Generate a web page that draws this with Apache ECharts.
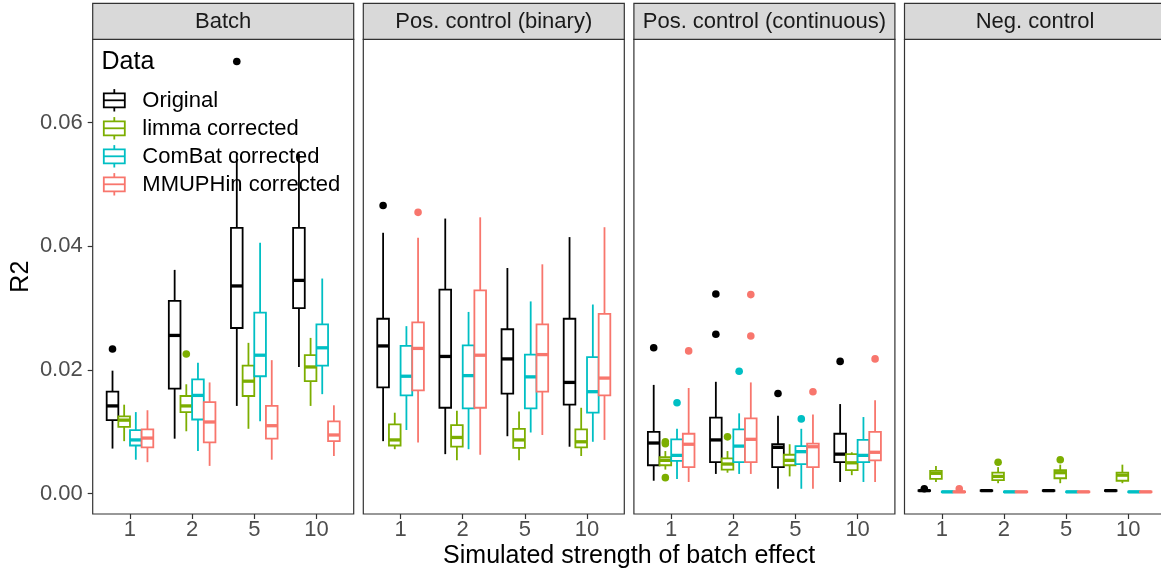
<!DOCTYPE html>
<html>
<head>
<meta charset="utf-8">
<script src="https://cdn.jsdelivr.net/npm/echarts@6/dist/echarts.min.js"></script>
<style>
  html, body { margin: 0; padding: 0; background: #ffffff; }
  #chart { width: 1161px; height: 573px; }
</style>
</head>
<body>
<div id="chart"></div>
<script>
// ---- data ---------------------------------------------------------------
const categories = ['1', '2', '5', '10'];
const panels = ['Batch', 'Pos. control (binary)', 'Pos. control (continuous)', 'Neg. control'];
const methods = ['Original', 'limma corrected', 'ComBat corrected', 'MMUPHin corrected'];
const methodColors = ['#000000', '#7CAE00', '#00BFC4', '#F8766D'];
const yTicks = [0, 0.02, 0.04, 0.06];

// Box statistics per method (rows follow `methods`), one entry per strength:
// [lower whisker, Q1, median, Q3, upper whisker]
const batchStats = [
  [[0.0073, 0.0119, 0.0142, 0.0165, 0.0199], [0.0089, 0.0170, 0.0256, 0.0312, 0.0362], [0.0142, 0.0268, 0.0336, 0.0430, 0.0551], [0.0205, 0.0300, 0.0345, 0.0430, 0.0550]],
  [[0.0085, 0.0108, 0.0119, 0.0125, 0.0144], [0.0101, 0.0132, 0.0142, 0.0158, 0.0177], [0.0105, 0.0158, 0.0182, 0.0207, 0.0244], [0.0142, 0.0182, 0.0205, 0.0224, 0.0252]],
  [[0.0055, 0.0078, 0.0087, 0.0103, 0.0132], [0.0069, 0.0120, 0.0159, 0.0185, 0.0212], [0.0117, 0.0190, 0.0224, 0.0293, 0.0406], [0.0161, 0.0207, 0.0236, 0.0274, 0.0348]],
  [[0.0051, 0.0075, 0.0090, 0.0104, 0.0135], [0.0045, 0.0083, 0.0116, 0.0148, 0.0180], [0.0055, 0.0089, 0.0110, 0.0142, 0.0216], [0.0061, 0.0085, 0.0095, 0.0117, 0.0143]]
];
const posBinaryStats = [
  [[0.0085, 0.0172, 0.0239, 0.0283, 0.0422], [0.0064, 0.0139, 0.0222, 0.0330, 0.0445], [0.0093, 0.0162, 0.0218, 0.0266, 0.0365], [0.0076, 0.0144, 0.0180, 0.0283, 0.0415]],
  [[0.0072, 0.0078, 0.0087, 0.0112, 0.0131], [0.0054, 0.0076, 0.0091, 0.0111, 0.0134], [0.0054, 0.0074, 0.0087, 0.0105, 0.0133], [0.0061, 0.0075, 0.0084, 0.0104, 0.0139]],
  [[0.0103, 0.0159, 0.0190, 0.0239, 0.0271], [0.0072, 0.0138, 0.0191, 0.0240, 0.0294], [0.0099, 0.0138, 0.0189, 0.0225, 0.0311], [0.0084, 0.0131, 0.0165, 0.0221, 0.0306]],
  [[0.0083, 0.0167, 0.0235, 0.0277, 0.0414], [0.0063, 0.0139, 0.0224, 0.0329, 0.0447], [0.0095, 0.0165, 0.0225, 0.0274, 0.0371], [0.0087, 0.0159, 0.0187, 0.0291, 0.0431]]
];
const posContinuousStats = [
  [[0.0021, 0.0046, 0.0082, 0.0100, 0.0176], [0.0032, 0.0051, 0.0087, 0.0123, 0.0181], [0.0008, 0.0043, 0.0075, 0.0080, 0.0126], [0.0019, 0.0051, 0.0064, 0.0097, 0.0145]],
  [[0.0039, 0.0046, 0.0054, 0.0059, 0.0069], [0.0034, 0.0039, 0.0048, 0.0057, 0.0069], [0.0028, 0.0046, 0.0054, 0.0063, 0.0080], [0.0030, 0.0038, 0.0050, 0.0064, 0.0067]],
  [[0.0024, 0.0053, 0.0062, 0.0088, 0.0105], [0.0032, 0.0051, 0.0077, 0.0104, 0.0130], [0.0008, 0.0048, 0.0068, 0.0077, 0.0105], [0.0019, 0.0051, 0.0062, 0.0087, 0.0124]],
  [[0.0019, 0.0043, 0.0080, 0.0097, 0.0171], [0.0032, 0.0051, 0.0088, 0.0122, 0.0180], [0.0008, 0.0043, 0.0076, 0.0081, 0.0128], [0.0019, 0.0054, 0.0067, 0.0100, 0.0151]]
];
const negControlStats = [
  [[0.0004, 0.00045, 0.0005, 0.00055, 0.0006], [0.0004, 0.00045, 0.0005, 0.00055, 0.0006], [0.0004, 0.00045, 0.0005, 0.00055, 0.0006], [0.0004, 0.00045, 0.0005, 0.00055, 0.0006]],
  [[0.0019, 0.0024, 0.0033, 0.0037, 0.0045], [0.0017, 0.0022, 0.0028, 0.0034, 0.0043], [0.0017, 0.0025, 0.0034, 0.0038, 0.0047], [0.0017, 0.0021, 0.0030, 0.0034, 0.0047]],
  [[0.0002, 0.00025, 0.0003, 0.00035, 0.0004], [0.0002, 0.00025, 0.0003, 0.00035, 0.0004], [0.0002, 0.00025, 0.0003, 0.00035, 0.0004], [0.0002, 0.00025, 0.0003, 0.00035, 0.0004]],
  [[0.0002, 0.00025, 0.0003, 0.00035, 0.0004], [0.0002, 0.00025, 0.0003, 0.00035, 0.0004], [0.0002, 0.00025, 0.0003, 0.00035, 0.0004], [0.0002, 0.00025, 0.0003, 0.00035, 0.0004]]
];

// Outliers: [method index, strength index, value]
const batchOutliers = [[0, 0, 0.0234], [0, 2, 0.0699], [1, 1, 0.0226]];
const posBinaryOutliers = [[0, 0, 0.0466], [3, 0, 0.0455]];
const posContinuousOutliers = [
  [0, 0, 0.0236], [1, 0, 0.0084], [1, 0, 0.0081], [1, 0, 0.0026], [2, 0, 0.0147], [3, 0, 0.0231],
  [0, 1, 0.0323], [0, 1, 0.0258], [1, 1, 0.0092], [2, 1, 0.0198], [3, 1, 0.0322], [3, 1, 0.0255],
  [0, 2, 0.0162], [2, 2, 0.0121], [3, 2, 0.0165],
  [0, 3, 0.0214], [3, 3, 0.0218]
];
const negControlOutliers = [[0, 0, 0.0008], [3, 0, 0.0008], [1, 1, 0.0051], [1, 2, 0.0055]];

const panelStats = [batchStats, posBinaryStats, posContinuousStats, negControlStats];
const panelOutliers = [batchOutliers, posBinaryOutliers, posContinuousOutliers, negControlOutliers];

// ---- layout -------------------------------------------------------------
const FONT = "'Liberation Sans', Arial, Helvetica, sans-serif";
const PANEL_LEFT0 = 92.7;
const PANEL_STEP = 270.6;
const PANEL_W = 261;
const PANEL_TOP = 39.3;
const PANEL_H = 474.7;
const STRIP_TOP = 3.3;
const Y_MIN = -0.00328;
const Y_MAX = 0.07349;
const DODGE = 0.75;
const SLOT = DODGE / methods.length;
const BOX_LINE = 1.8;
const MEDIAN_LINE = 3.3;
const POINT_R = 3.8;
const FRAME = '#333333';

function dodgeOffset(m) {
  return -DODGE / 2 + SLOT * (m + 0.5);
}

function boxRenderer(m) {
  const color = methodColors[m];
  const off = dodgeOffset(m);
  return function (params, api) {
    const x = api.value(0) + off;
    const lo = api.coord([x, api.value(1)]);
    const q1 = api.coord([x, api.value(2)]);
    const med = api.coord([x, api.value(3)]);
    const q3 = api.coord([x, api.value(4)]);
    const hi = api.coord([x, api.value(5)]);
    const left = api.coord([x - SLOT / 2, api.value(3)])[0];
    const right = api.coord([x + SLOT / 2, api.value(3)])[0];
    const stroke = { stroke: color, lineWidth: BOX_LINE, fill: null };
    return {
      type: 'group',
      children: [
        { type: 'line', shape: { x1: lo[0], y1: lo[1], x2: q1[0], y2: q1[1] }, style: stroke },
        { type: 'line', shape: { x1: q3[0], y1: q3[1], x2: hi[0], y2: hi[1] }, style: stroke },
        { type: 'rect', shape: { x: left, y: q3[1], width: right - left, height: q1[1] - q3[1] },
          style: { fill: '#ffffff', stroke: color, lineWidth: BOX_LINE } },
        { type: 'line', shape: { x1: left, y1: med[1], x2: right, y2: med[1] },
          style: { stroke: color, lineWidth: MEDIAN_LINE, lineCap: 'butt' } }
      ]
    };
  };
}

function outlierRenderer(params, api) {
  const m = api.value(2);
  const p = api.coord([api.value(0) + dodgeOffset(m), api.value(1)]);
  return { type: 'circle', shape: { cx: p[0], cy: p[1], r: POINT_R }, style: { fill: methodColors[m] } };
}

const grids = [], xAxes = [], yAxes = [], series = [], graphics = [];

panels.forEach(function (name, k) {
  const left = PANEL_LEFT0 + k * PANEL_STEP;
  grids.push({
    left: left, top: PANEL_TOP, width: PANEL_W, height: PANEL_H,
    show: true, backgroundColor: '#ffffff', borderColor: FRAME, borderWidth: 1.2,
    containLabel: false, outerBoundsMode: 'none'
  });
  xAxes.push({
    type: 'value', gridIndex: k, min: 0.4, max: 4.6, position: 'bottom',
    axisLine: { show: false, onZero: false }, splitLine: { show: false },
    axisTick: { show: true, customValues: [1, 2, 3, 4], length: 5, lineStyle: { color: FRAME, width: 1.2 } },
    axisLabel: {
      show: true, customValues: [1, 2, 3, 4], margin: 5,
      fontSize: 22, color: '#4D4D4D', fontFamily: FONT,
      formatter: function (v) { return categories[Math.round(v) - 1] || ''; }
    }
  });
  yAxes.push({
    type: 'value', gridIndex: k, min: Y_MIN, max: Y_MAX, position: 'left',
    axisLine: { show: false, onZero: false }, splitLine: { show: false },
    axisTick: { show: k === 0, customValues: yTicks, length: 5, lineStyle: { color: FRAME, width: 1.2 } },
    axisLabel: {
      show: k === 0, customValues: yTicks, margin: 10,
      fontSize: 22, color: '#4D4D4D', fontFamily: FONT,
      formatter: function (v) { return v.toFixed(2); }
    }
  });

  // facet strip
  graphics.push({
    type: 'rect', silent: true,
    shape: { x: left, y: STRIP_TOP, width: PANEL_W, height: PANEL_TOP - STRIP_TOP },
    style: { fill: '#D9D9D9', stroke: FRAME, lineWidth: 1.2 }
  });
  graphics.push({
    type: 'text', silent: true, x: left + PANEL_W / 2, y: (STRIP_TOP + PANEL_TOP) / 2 + 1,
    style: { text: name, font: '22px ' + FONT, fill: '#1A1A1A', align: 'center', verticalAlign: 'middle' }
  });

  // boxes
  panelStats[k].forEach(function (rows, m) {
    series.push({
      type: 'custom', name: methods[m], xAxisIndex: k, yAxisIndex: k,
      itemStyle: { color: methodColors[m], borderColor: methodColors[m] },
      renderItem: boxRenderer(m),
      data: rows.map(function (s, i) { return [i + 1].concat(s); }),
      z: 2
    });
  });
  // outlying points
  series.push({
    type: 'custom', name: 'outliers-' + k, xAxisIndex: k, yAxisIndex: k,
    renderItem: outlierRenderer,
    data: panelOutliers[k].map(function (o) { return [o[1] + 1, o[2], o[0]]; }),
    z: 3
  });
});

// legend (drawn inside the first panel)
const LEG_X = 114.3, LEG_Y0 = 100.3, LEG_STEP = 28, KEY_H = 28, KEY_W = 21;
graphics.push({
  type: 'text', silent: true, x: 101.5, y: 62, z: 10,
  style: { text: 'Data', font: '25px ' + FONT, fill: '#000000', align: 'left', verticalAlign: 'middle' }
});
methods.forEach(function (label, m) {
  const cy = LEG_Y0 + m * LEG_STEP;
  const c = methodColors[m];
  const top = cy - KEY_H / 2;
  const st = { stroke: c, lineWidth: BOX_LINE };
  graphics.push({
    type: 'group', silent: true, z: 10,
    children: [
      { type: 'line', shape: { x1: LEG_X, y1: top + 0.1 * KEY_H, x2: LEG_X, y2: top + 0.25 * KEY_H }, style: st },
      { type: 'line', shape: { x1: LEG_X, y1: top + 0.75 * KEY_H, x2: LEG_X, y2: top + 0.9 * KEY_H }, style: st },
      { type: 'rect', shape: { x: LEG_X - KEY_W / 2, y: top + 0.25 * KEY_H, width: KEY_W, height: 0.5 * KEY_H },
        style: { fill: 'none', stroke: c, lineWidth: BOX_LINE } },
      { type: 'line', shape: { x1: LEG_X - KEY_W / 2, y1: cy, x2: LEG_X + KEY_W / 2, y2: cy }, style: st }
    ]
  });
  graphics.push({
    type: 'text', silent: true, x: 142.3, y: cy + 1, z: 10,
    style: { text: label, font: '22px ' + FONT, fill: '#000000', align: 'left', verticalAlign: 'middle' }
  });
});

// axis titles
graphics.push({
  type: 'text', silent: true,
  x: (PANEL_LEFT0 + PANEL_LEFT0 + 3 * PANEL_STEP + PANEL_W) / 2, y: 556,
  style: { text: 'Simulated strength of batch effect', font: '25px ' + FONT, fill: '#000000', align: 'center', verticalAlign: 'middle' }
});
graphics.push({
  type: 'text', silent: true, x: 21, y: PANEL_TOP + PANEL_H / 2, rotation: Math.PI / 2,
  style: { text: 'R2', font: '25px ' + FONT, fill: '#000000', align: 'center', verticalAlign: 'middle' }
});

const chart = echarts.init(document.getElementById('chart'), null, { renderer: 'canvas' });
chart.setOption({
  animation: false,
  backgroundColor: '#ffffff',
  textStyle: { fontFamily: FONT },
  grid: grids,
  xAxis: xAxes,
  yAxis: yAxes,
  series: series,
  graphic: { elements: graphics }
});
</script>
</body>
</html>
